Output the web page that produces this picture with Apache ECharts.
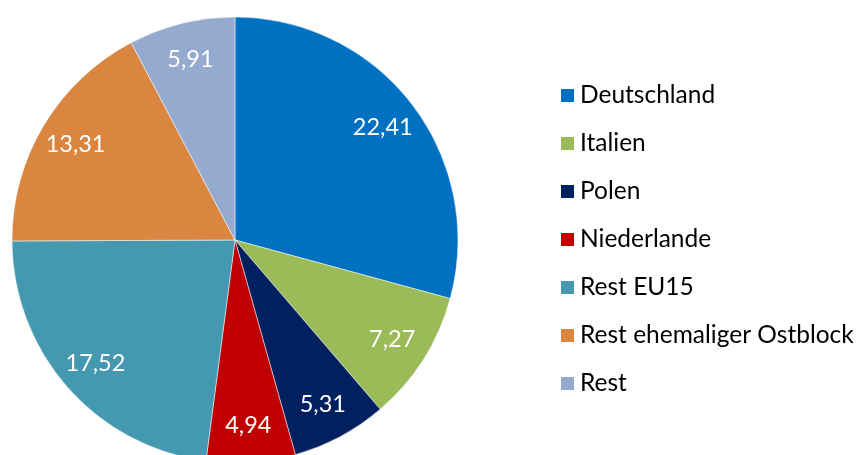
<!DOCTYPE html>
<html>
<head>
<meta charset="utf-8">
<script src="https://cdn.jsdelivr.net/npm/echarts@6/dist/echarts.min.js"></script>
<style>
  html, body { margin: 0; padding: 0; background: #fff; }
  #chart { width: 860px; height: 455px; }
</style>
</head>
<body>
<div id="chart"></div>
<script>
const names = ['Deutschland', 'Italien', 'Polen', 'Niederlande', 'Rest EU15', 'Rest ehemaliger Ostblock', 'Rest']
const values = [22.41, 7.27, 5.31, 4.94, 17.52, 13.31, 5.91]
const colors = ['#0070C0', '#9BBB59', '#002060', '#C00000', '#4498B0', '#DA8640', '#95AACF']

const fontFamily = 'Lato, "Open Sans", sans-serif'
const pieData = names.map((n, i) => ({ name: n, value: values[i], itemStyle: { color: colors[i] } }))
const labelData = names.map((n, i) => ({ name: n, value: values[i] }))

const chart = echarts.init(document.getElementById('chart'))
chart.setOption({
  animation: false,
  backgroundColor: '#fff',
  legend: {
    orient: 'vertical',
    left: 554,
    top: 78,
    itemWidth: 15,
    itemHeight: 15,
    itemGap: 23,
    icon: 'rect',
    data: names,
    textStyle: { fontFamily: fontFamily, fontSize: 24.5, color: '#000' }
  },
  series: [
    {
      type: 'pie',
      center: [235, 240],
      radius: [0, 223],
      startAngle: 90,
      clockwise: true,
      silent: true,
      label: { show: false },
      labelLine: { show: false },
      itemStyle: { borderColor: '#fff', borderWidth: 0.5 },
      data: pieData
    },
    {
      // transparent ring only to place the value labels further out
      type: 'pie',
      center: [235, 240],
      radius: [143, 223],
      startAngle: 90,
      clockwise: true,
      silent: true,
      legendHoverLink: false,
      itemStyle: { color: 'rgba(0,0,0,0)' },
      label: {
        show: true,
        position: 'inside',
        color: '#fff',
        fontFamily: fontFamily,
        fontSize: 23.5,
        formatter: p => p.value.toFixed(2).replace('.', ',')
      },
      labelLine: { show: false },
      data: labelData
    }
  ]
})
</script>
</body>
</html>
